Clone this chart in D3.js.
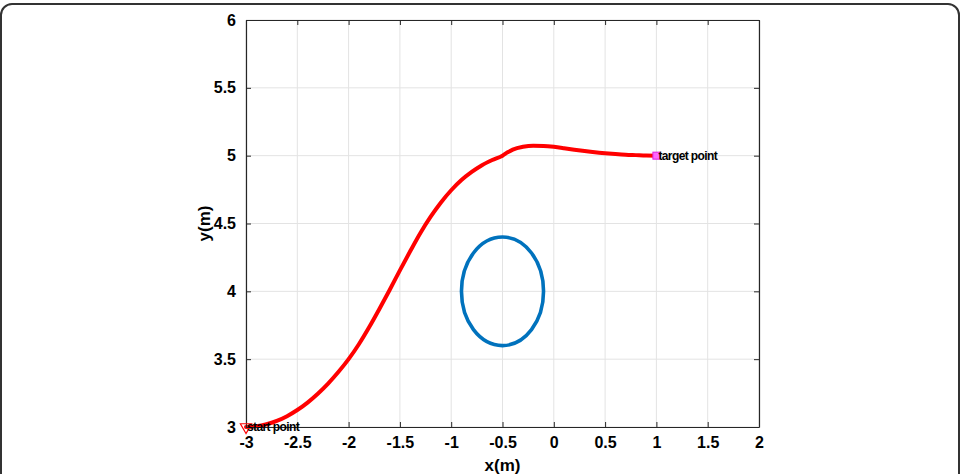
<!DOCTYPE html>
<html><head><meta charset="utf-8">
<script src="https://cdn.jsdelivr.net/npm/d3@7"></script>
<style>
html,body{margin:0;padding:0;background:#fff;}
svg{display:block;font-family:"Liberation Sans",Arial,sans-serif;}
</style></head>
<body><svg id="c" width="965" height="474"></svg>
<script>
const xTicks = [-3,-2.5,-2,-1.5,-1,-0.5,0,0.5,1,1.5,2];
const yTicks = [3,3.5,4,4.5,5,5.5,6];
const xTickLabels = ["-3","-2.5","-2","-1.5","-1","-0.5","0","0.5","1","1.5","2"];
const yTickLabels = ["3","3.5","4","4.5","5","5.5","6"];
const trajX = [-3.0,-2.9,-2.8,-2.7,-2.6,-2.5,-2.4,-2.3,-2.2,-2.1,-2.0,-1.9,-1.8,-1.7,-1.6,-1.5,-1.4,-1.3,-1.2,-1.1,-1.0,-0.9,-0.8,-0.7,-0.6,-0.5,-0.45,-0.4,-0.3,-0.2,-0.1,0.0,0.1,0.2,0.3,0.4,0.5,0.6,0.7,0.8,0.9,1.0];
const trajY = [3.0,3.005,3.02,3.045,3.08,3.125,3.18,3.245,3.32,3.405,3.5,3.61,3.735,3.87,4.01,4.155,4.295,4.43,4.55,4.655,4.745,4.82,4.88,4.93,4.968,5.0,5.025,5.045,5.066,5.074,5.072,5.065,5.055,5.044,5.034,5.025,5.018,5.012,5.007,5.004,5.001,5.0];
const obstacle = {cx:-0.5, cy:4, r:0.4};
const startPt = {x:-3, y:3, label:"start point"};
const targetPt = {x:1, y:5, label:"target point"};

const svg = d3.select("#c");
const L=246, R=759, T=20, B=427;
const x = d3.scaleLinear().domain([-3,2]).range([L,R]);
const y = d3.scaleLinear().domain([3,6]).range([B,T]);

// outer frame
svg.append("rect").attr("x",1).attr("y",4).attr("width",958).attr("height",500)
  .attr("rx",11).attr("fill","none").attr("stroke","#333").attr("stroke-width",2);

// grid
const g = svg.append("g");
g.selectAll(".gx").data(xTicks).join("line")
  .attr("x1",d=>x(d)).attr("x2",d=>x(d)).attr("y1",T).attr("y2",B)
  .attr("stroke","#e3e3e3").attr("stroke-width",1);
g.selectAll(".gy").data(yTicks).join("line")
  .attr("y1",d=>y(d)).attr("y2",d=>y(d)).attr("x1",L).attr("x2",R)
  .attr("stroke","#e3e3e3").attr("stroke-width",1);

// obstacle
svg.append("ellipse").attr("cx",x(obstacle.cx)).attr("cy",y(obstacle.cy))
  .attr("rx",x(obstacle.cx+obstacle.r)-x(obstacle.cx))
  .attr("ry",y(obstacle.cy)-y(obstacle.cy+obstacle.r))
  .attr("fill","none").attr("stroke","#0072BD").attr("stroke-width",3.6);

// trajectory
const pts = trajX.map((v,i)=>[v,trajY[i]]);
svg.append("path").datum(pts)
  .attr("d",d3.line().x(d=>x(d[0])).y(d=>y(d[1])).curve(d3.curveMonotoneX))
  .attr("fill","none").attr("stroke","#ff0000").attr("stroke-width",4).attr("stroke-linecap","round").attr("stroke-linejoin","round");

// axes
const ax = svg.append("g").attr("transform",`translate(0,${B})`)
  .call(d3.axisBottom(x).tickValues(xTicks).tickFormat((d,i)=>xTickLabels[i]).tickSizeInner(-5).tickSizeOuter(0).tickPadding(10));
const ay = svg.append("g").attr("transform",`translate(${L},0)`)
  .call(d3.axisLeft(y).tickValues(yTicks).tickFormat((d,i)=>yTickLabels[i]).tickSizeInner(-5).tickSizeOuter(0).tickPadding(10));
const axT = svg.append("g").attr("transform",`translate(0,${T})`)
  .call(d3.axisTop(x).tickValues(xTicks).tickFormat("").tickSizeInner(-5).tickSizeOuter(0));
const ayR = svg.append("g").attr("transform",`translate(${R},0)`)
  .call(d3.axisRight(y).tickValues(yTicks).tickFormat("").tickSizeInner(-5).tickSizeOuter(0));
[ax,ay,axT,ayR].forEach(a=>{
  a.select(".domain").attr("stroke","#262626").attr("stroke-width",1.2);
  a.selectAll(".tick line").attr("stroke","#262626");
  a.selectAll("text").attr("font-size",16).attr("font-weight","bold").attr("fill","#000")
    .attr("font-family","'Liberation Sans',Arial,sans-serif");
});
ax.selectAll("text").attr("dy","0.71em");

// labels
svg.append("text").attr("x",(L+R)/2).attr("y",471).attr("text-anchor","middle")
  .attr("font-size",17).attr("font-weight","bold").text("x(m)");
svg.append("text").attr("transform",`translate(210,${(T+B)/2}) rotate(-90)`).attr("text-anchor","middle")
  .attr("font-size",17).attr("font-weight","bold").text("y(m)");

// markers
const tri = d3.symbol().type(d3.symbolTriangle).size(55);
svg.append("path").attr("d",tri()).attr("transform",`translate(${x(startPt.x)},${y(startPt.y)}) rotate(180)`)
  .attr("fill","none").attr("stroke","#ff0000").attr("stroke-width",1.2);
svg.append("rect").attr("x",x(targetPt.x)-3.5).attr("y",y(targetPt.y)-3.5).attr("width",7).attr("height",7)
  .attr("fill","#ff66ff").attr("stroke","#e020e0").attr("stroke-width",1);
svg.append("text").attr("x",x(startPt.x)+1).attr("y",y(startPt.y)+4).attr("font-size",12)
  .attr("font-weight","bold").attr("letter-spacing","-0.6").text(startPt.label);
svg.append("text").attr("x",x(targetPt.x)+2).attr("y",y(targetPt.y)+4).attr("font-size",12)
  .attr("font-weight","bold").attr("letter-spacing","-0.6").text(targetPt.label);
</script></body></html>
